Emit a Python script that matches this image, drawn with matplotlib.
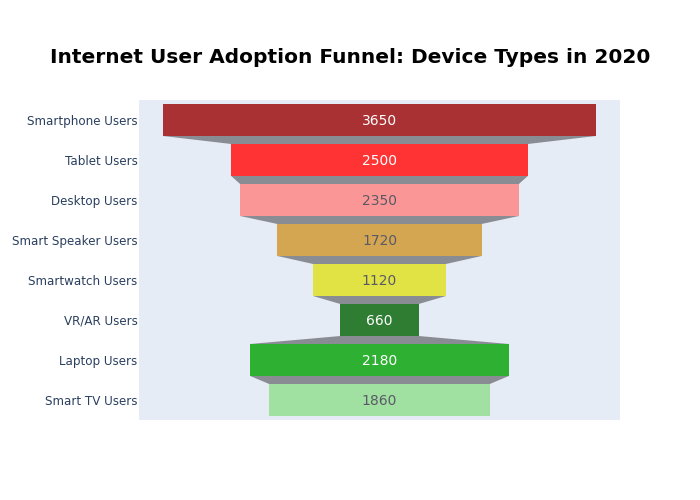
import numpy as np
import matplotlib.pyplot as plt
from matplotlib.patches import Polygon

# data
stages = ["Smartphone Users", "Tablet Users", "Desktop Users", "Smart Speaker Users",
          "Smartwatch Users", "VR/AR Users", "Laptop Users", "Smart TV Users"]
users = [3650, 2500, 2350, 1720, 1120, 660, 2180, 1860]
colors = ["#A93033", "#FF3333", "#FA9696", "#D4A652",
          "#E1E244", "#2E7D32", "#2EB033", "#A0E0A0"]
text_colors = ["white", "white", "#5a5a66", "#5a5a66",
               "#5a5a66", "white", "white", "#5a5a66"]

fig = plt.figure(figsize=(7, 5), dpi=100)
ax = fig.add_axes([139/700, 80/500, 481/700, 320/500])
ax.set_facecolor("#E5ECF6")

y = np.arange(len(stages))
h = 0.8
vals = np.array(users)
ax.barh(y, vals, left=-vals/2, height=h, color=colors, zorder=3)

# connectors between bars
for i in range(len(vals) - 1):
    a, b = vals[i] / 2, vals[i + 1] / 2
    y0, y1 = y[i] + h/2, y[i + 1] - h/2
    ax.add_patch(Polygon([(-a, y0), (a, y0), (b, y1), (-b, y1)],
                         closed=True, facecolor="#8A8C94", edgecolor="none", zorder=2))

for yi, v, tc in zip(y, vals, text_colors):
    ax.text(0, yi + 0.03, str(v), ha="center", va="center", color=tc, fontsize=10, zorder=4)

m = vals.max() / 2 * 1.111
ax.set_xlim(-m, m)
ax.set_ylim(len(stages) - 0.5, -0.5)
ax.set_yticks(y)
ax.set_yticklabels(stages, fontsize=8.6, color="#2a3f5f", va="center_baseline")
ax.tick_params(axis="y", length=0, pad=1)
ax.set_xticks([])
for s in ax.spines.values():
    s.set_visible(False)

fig.suptitle("Internet User Adoption Funnel: Device Types in 2020",
             fontsize=14.5, fontweight="bold", x=0.5, y=0.885, va="center")

fig.savefig("out.png")
